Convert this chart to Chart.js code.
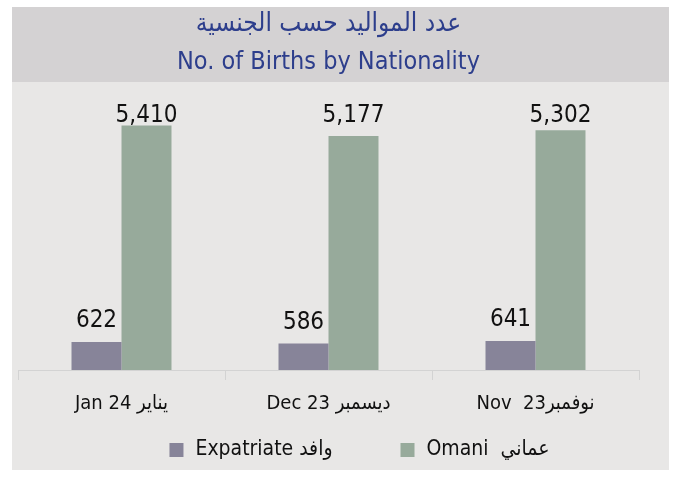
<!DOCTYPE html>
<html>
<head>
<meta charset="utf-8">
<script src="https://cdn.jsdelivr.net/npm/chart.js@4"></script>
<style>
  body { margin: 0; background: #ffffff; }
  #wrap { position: absolute; left: 12px; top: 7px; width: 657px; height: 463px; }
</style>
</head>
<body>
<div id="wrap"><canvas id="birthsChart"></canvas></div>
<script>
// data
const categories = ['Jan 24 يناير', 'Dec 23 ديسمبر', 'Nov  23نوفمبر'];
const expatriate = [622, 586, 641];
const omani = [5410, 5177, 5302];
const seriesNames = ['Expatriate وافد', 'Omani  عماني'];
const titleAr = 'عدد المواليد حسب الجنسية';
const titleEn = 'No. of Births by Nationality';

const FONT = '"Liberation Sans Narrow", "DejaVu Sans Condensed", "Noto Sans", "DejaVu Sans", sans-serif';

// fondo: banda gris del titulo + area clara del grafico
const fondo = {
  id: 'fondo',
  beforeDraw(chart) {
    const ctx = chart.ctx;
    ctx.save();
    ctx.fillStyle = '#e8e7e6';
    ctx.fillRect(0, 0, chart.width, chart.height);
    ctx.fillStyle = '#d4d2d3';
    ctx.fillRect(0, 0, chart.width, 75);
    ctx.restore();
  }
};

// valores encima de cada barra
const etiquetas = {
  id: 'etiquetas',
  afterDatasetsDraw(chart) {
    const ctx = chart.ctx;
    const top = chart.chartArea.top;
    ctx.save();
    ctx.font = '24px ' + FONT;
    ctx.fillStyle = '#111111';
    ctx.textAlign = 'center';
    ctx.textBaseline = 'alphabetic';
    chart.data.datasets.forEach((ds, i) => {
      chart.getDatasetMeta(i).data.forEach((bar, j) => {
        const y = Math.max(bar.y - 15, top + 18);
        ctx.fillText(ds.data[j].toLocaleString('en-US'), bar.x, y);
      });
    });
    ctx.restore();
  }
};

// leyenda abajo, con mas separacion entre elementos
const leyenda = {
  id: 'leyenda',
  afterDraw(chart) {
    const ctx = chart.ctx;
    const box = 14, gapText = 12, gapItem = 68;
    ctx.save();
    ctx.font = '21px ' + FONT;
    const items = chart.data.datasets.map(ds => ({
      text: ds.label, color: ds.backgroundColor, w: ctx.measureText(ds.label).width
    }));
    let total = items.reduce((s, it) => s + box + gapText + it.w, 0) + gapItem * (items.length - 1);
    let x = (chart.chartArea.left + chart.chartArea.right) / 2 + 31 - total / 2;
    const y = chart.height - 20;
    ctx.textBaseline = 'middle';
    ctx.textAlign = 'left';
    items.forEach(it => {
      ctx.fillStyle = it.color;
      ctx.fillRect(x, y - box / 2, box, box);
      ctx.fillStyle = '#111111';
      ctx.fillText(it.text, x + box + gapText, y);
      x += box + gapText + it.w + gapItem;
    });
    ctx.restore();
  }
};

new Chart(document.getElementById('birthsChart'), {
  type: 'bar',
  data: {
    labels: categories,
    datasets: [
      { label: seriesNames[0], data: expatriate, backgroundColor: '#878499' },
      { label: seriesNames[1], data: omani, backgroundColor: '#97aa9b' }
    ]
  },
  options: {
    responsive: true,
    maintainAspectRatio: false,
    animation: false,
    datasets: { bar: { barPercentage: 1, categoryPercentage: 0.483 } },
    layout: { padding: { left: 6, right: 30, bottom: 42 } },
    plugins: {
      title: {
        display: true,
        text: titleAr,
        color: '#2d3e8c',
        font: { family: FONT, size: 26, weight: 'normal', lineHeight: 1.2 },
        padding: { top: 2, bottom: 7 }
      },
      subtitle: {
        display: true,
        text: titleEn,
        color: '#2d3e8c',
        font: { family: FONT, size: 25, weight: 'normal', lineHeight: 1.2 },
        padding: { top: 0, bottom: 27 }
      },
      legend: { display: false },
      tooltip: { enabled: false }
    },
    scales: {
      x: {
        grid: { drawOnChartArea: false, drawTicks: true, tickLength: 10, color: '#d3d3d3' },
        border: { color: '#d3d3d3' },
        ticks: { color: '#111111', font: { family: FONT, size: 20 }, padding: 12 }
      },
      y: {
        display: false,
        beginAtZero: true,
        max: 5880
      }
    }
  },
  plugins: [fondo, etiquetas, leyenda]
});
</script>
</body>
</html>
